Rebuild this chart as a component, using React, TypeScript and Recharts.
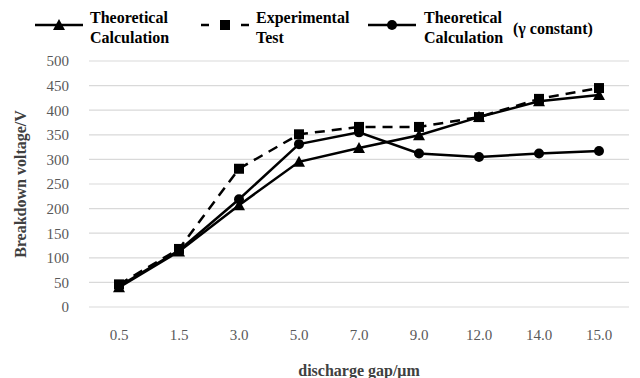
import { CartesianGrid, Line, LineChart, XAxis, YAxis } from "recharts";

const gaps = ["0.5", "1.5", "3.0", "5.0", "7.0", "9.0", "12.0", "14.0", "15.0"];
const theoretical = [40, 113, 207, 295, 323, 349, 386, 418, 431];
const experimental = [46, 118, 281, 351, 366, 366, 386, 423, 445];
const gammaConstant = [42, 115, 219, 331, 355, 312, 305, 312, 317];
const yTicks = [0, 50, 100, 150, 200, 250, 300, 350, 400, 450, 500];

const data = gaps.map((gap, i) => ({
  gap,
  theoretical: theoretical[i],
  experimental: experimental[i],
  gammaConstant: gammaConstant[i],
}));

const FONT = "'Liberation Serif', 'Times New Roman', Tinos, 'Nimbus Roman', 'FreeSerif', 'Noto Serif', 'DejaVu Serif', Times, serif";

const Triangle = ({ cx, cy }: any) => (
  <path d={`M${cx},${cy - 6} L${cx + 6},${cy + 5} L${cx - 6},${cy + 5} Z`} fill="#000" />
);
const Square = ({ cx, cy }: any) => <rect x={cx - 5} y={cy - 5} width={10} height={10} fill="#000" />;
const Circle = ({ cx, cy }: any) => <circle cx={cx} cy={cy} r={5} fill="#000" />;

function LegendKey({ dashed, marker }: { dashed?: boolean; marker: "tri" | "sq" | "dot" }) {
  return (
    <svg width={48} height={14} style={{ display: "block" }}>
      {dashed ? (
        <>
          <line x1={0} x2={8} y1={7} y2={7} stroke="#000" strokeWidth={2.5} />
          <line x1={40} x2={48} y1={7} y2={7} stroke="#000" strokeWidth={2.5} />
        </>
      ) : (
        <line x1={0} x2={48} y1={7} y2={7} stroke="#000" strokeWidth={2.5} />
      )}
      {marker === "tri" && <path d="M24,1 L30,12 L18,12 Z" fill="#000" />}
      {marker === "sq" && <rect x={19} y={2} width={10} height={10} fill="#000" />}
      {marker === "dot" && <circle cx={24} cy={7} r={5} fill="#000" />}
    </svg>
  );
}

const legendText: React.CSSProperties = { fontFamily: FONT, fontWeight: 700, fontSize: 16, lineHeight: "20px", color: "#000", position: "absolute" };

export default function App() {
  return (
    <div style={{ position: "absolute", top: 0, left: 0, width: 640, height: 378, background: "#fff" }}>
      <div style={{ position: "absolute", left: 35, top: 18 }}><LegendKey marker="tri" /></div>
      <div style={{ ...legendText, left: 90, top: 8 }}>Theoretical<br />Calculation</div>
      <div style={{ position: "absolute", left: 201, top: 18 }}><LegendKey marker="sq" dashed /></div>
      <div style={{ ...legendText, left: 256, top: 8 }}>Experimental<br />Test</div>
      <div style={{ position: "absolute", left: 368, top: 18 }}><LegendKey marker="dot" /></div>
      <div style={{ ...legendText, left: 424, top: 8 }}>Theoretical<br />Calculation</div>
      <div style={{ ...legendText, left: 513, top: 19 }}>(γ constant)</div>

      <div style={{ position: "absolute", left: 0, top: 0 }}>
        <LineChart width={640} height={378} data={data} margin={{ top: 61, right: 11, left: 0, bottom: 0 }}>
          <CartesianGrid vertical={false} stroke="#d9d9d9" strokeWidth={1.2} />
          <XAxis
            dataKey="gap"
            height={71}
            padding={{ left: 30, right: 30 }}
            axisLine={false}
            tickLine={false}
            tickSize={0}
            tickMargin={22}
            tick={{ fontFamily: FONT, fontSize: 15, fill: "#595959" }}
            label={{ value: "discharge gap/μm", position: "insideBottom", offset: 2, style: { fontFamily: FONT, fontSize: 16, fontWeight: 700, fill: "#404040" } }}
          />
          <YAxis
            width={89}
            domain={[0, 500]}
            ticks={yTicks}
            axisLine={false}
            tickLine={false}
            tickSize={0}
            tickMargin={20}
            tick={{ fontFamily: FONT, fontSize: 15, fill: "#595959" }}
            label={{ value: "Breakdown voltage/V", angle: -90, position: "insideLeft", offset: 20, style: { textAnchor: "middle", fontFamily: FONT, fontSize: 16, fontWeight: 700, fill: "#404040" } }}
          />
          <Line dataKey="gammaConstant" stroke="#000" strokeWidth={2.5} dot={<Circle />} activeDot={false} isAnimationActive={false} />
          <Line dataKey="theoretical" stroke="#000" strokeWidth={2.5} dot={<Triangle />} activeDot={false} isAnimationActive={false} />
          <Line dataKey="experimental" stroke="#000" strokeWidth={2.5} strokeDasharray="10 7" dot={<Square />} activeDot={false} isAnimationActive={false} />
        </LineChart>
      </div>
    </div>
  );
}
